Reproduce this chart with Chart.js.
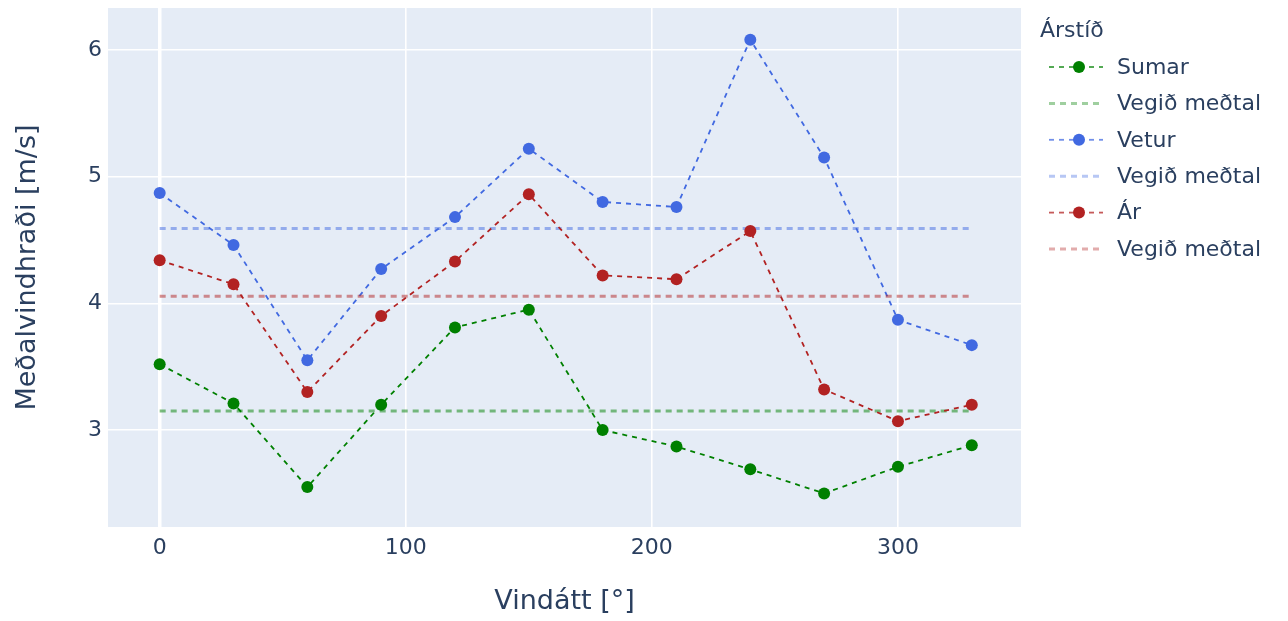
<!DOCTYPE html>
<html>
<head>
<meta charset="utf-8">
<script src="https://cdn.jsdelivr.net/npm/chart.js@4"></script>
<style>
  html, body { margin: 0; padding: 0; background: #fff; }
  #wrap { width: 1288px; height: 621px; }
</style>
</head>
<body>
<div id="wrap"><canvas id="chart" width="1288" height="621"></canvas></div>
<script>
const directions = [0, 30, 60, 90, 120, 150, 180, 210, 240, 270, 300, 330];
const summer = [3.52, 3.21, 2.55, 3.20, 3.81, 3.95, 3.00, 2.87, 2.69, 2.50, 2.71, 2.88];
const winter = [4.87, 4.46, 3.55, 4.27, 4.68, 5.22, 4.80, 4.76, 6.08, 5.15, 3.87, 3.67];
const year = [4.34, 4.15, 3.30, 3.90, 4.33, 4.86, 4.22, 4.19, 4.57, 3.32, 3.07, 3.20];
const summerMean = 3.15;
const winterMean = 4.59;
const yearMean = 4.055;
const xTicks = [0, 100, 200, 300];
const yTicks = [3, 4, 5, 6];
const legendTitle = "Árstíð";

const textColor = "#2a3f5f";
const fontFamily = "'DejaVu Sans', Verdana, sans-serif";

function points(ys) {
    return directions.map((d, i) => ({x: d, y: ys[i]}));
}
function meanLine(m) {
    return [{x: directions[0], y: m}, {x: directions[directions.length - 1], y: m}];
}

function seriesSet(label, ys, color, order) {
    return {
        label: label,
        data: points(ys),
        borderColor: color,
        backgroundColor: color,
        borderWidth: 1.8,
        borderDash: [5, 5],
        pointRadius: 6,
        pointHoverRadius: 6,
        pointBorderWidth: 0,
        fill: false,
        tension: 0,
        order: order,
        hasMarker: true
    };
}
function meanSet(m, color, order) {
    return {
        label: "Vegið meðtal",
        data: meanLine(m),
        borderColor: color,
        backgroundColor: color,
        borderWidth: 3,
        borderDash: [6, 5],
        pointRadius: 0,
        fill: false,
        order: order,
        hasMarker: false
    };
}

const datasets = [
    seriesSet("Sumar", summer, "#008000", 6),
    meanSet(summerMean, "rgba(0,128,0,0.5)", 5),
    seriesSet("Vetur", winter, "#4169e1", 4),
    meanSet(winterMean, "rgba(65,105,225,0.5)", 3),
    seriesSet("Ár", year, "#b22222", 2),
    meanSet(yearMean, "rgba(178,34,34,0.5)", 1)
];

// background of the plot area, plotly style
const plotBg = {
    id: "plotBg",
    beforeDraw(chart) {
        const a = chart.chartArea;
        const ctx = chart.ctx;
        ctx.save();
        ctx.fillStyle = "#e5ecf6";
        ctx.fillRect(a.left, a.top, a.right - a.left, a.bottom - a.top);
        ctx.restore();
    }
};

// legend on the right with the title and dashed symbols
const sideLegend = {
    id: "sideLegend",
    afterDraw(chart) {
        const ctx = chart.ctx;
        ctx.save();
        ctx.fillStyle = textColor;
        ctx.textBaseline = "middle";
        ctx.font = "22px " + fontFamily;
        ctx.fillText(legendTitle, 1040, 31);
        chart.data.datasets.forEach((ds, i) => {
            const y = 67 + i * 36.4;
            ctx.globalAlpha = 0.75;
            ctx.strokeStyle = ds.borderColor;
            ctx.lineWidth = ds.borderWidth;
            ctx.setLineDash(ds.borderDash);
            ctx.beginPath();
            ctx.moveTo(1049, y);
            ctx.lineTo(1103, y);
            ctx.stroke();
            ctx.setLineDash([]);
            ctx.globalAlpha = 1;
            if (ds.hasMarker) {
                ctx.fillStyle = ds.backgroundColor;
                ctx.beginPath();
                ctx.arc(1079, y, 6, 0, Math.PI * 2);
                ctx.fill();
            }
            ctx.fillStyle = textColor;
            ctx.fillText(ds.label, 1117, y + 1);
        });
        ctx.restore();
    }
};

function noEdgePadding(axis) {
    axis.paddingTop = 0;
    axis.paddingBottom = 0;
    axis.paddingLeft = 0;
    axis.paddingRight = 0;
}

new Chart(document.getElementById("chart"), {
    type: "line",
    data: { datasets: datasets },
    options: {
        responsive: false,
        animation: false,
        layout: { padding: { left: 0, top: 8, right: 267, bottom: 0 } },
        plugins: {
            legend: { display: false },
            tooltip: { enabled: false }
        },
        scales: {
            x: {
                type: "linear",
                min: -21,
                max: 350,
                afterBuildTicks: (axis) => { axis.ticks = xTicks.map(v => ({value: v})); },
                afterFit: (axis) => { axis.height = 94; noEdgePadding(axis); },
                grid: {
                    color: "#ffffff",
                    lineWidth: (c) => c.tick && c.tick.value === 0 ? 3.5 : 1.6,
                    drawTicks: false
                },
                border: { display: false },
                ticks: {
                    color: textColor,
                    font: { family: fontFamily, size: 22 },
                    padding: 8,
                    maxRotation: 0
                },
                title: {
                    display: true,
                    text: "Vindátt [°]",
                    color: textColor,
                    font: { family: fontFamily, size: 27 },
                    padding: { top: 0, bottom: 3 }
                }
            },
            y: {
                type: "linear",
                min: 2.235,
                max: 6.33,
                afterBuildTicks: (axis) => { axis.ticks = yTicks.map(v => ({value: v})); },
                afterFit: (axis) => { axis.width = 108; noEdgePadding(axis); },
                grid: { color: "#ffffff", lineWidth: 1.6, drawTicks: false },
                border: { display: false },
                ticks: {
                    color: textColor,
                    font: { family: fontFamily, size: 22 },
                    padding: 6
                },
                title: {
                    display: true,
                    text: "Meðalvindhraði [m/s]",
                    color: textColor,
                    font: { family: fontFamily, size: 27 },
                    padding: { top: 12, bottom: 0 }
                }
            }
        }
    },
    plugins: [plotBg, sideLegend]
});
</script>
</body>
</html>
